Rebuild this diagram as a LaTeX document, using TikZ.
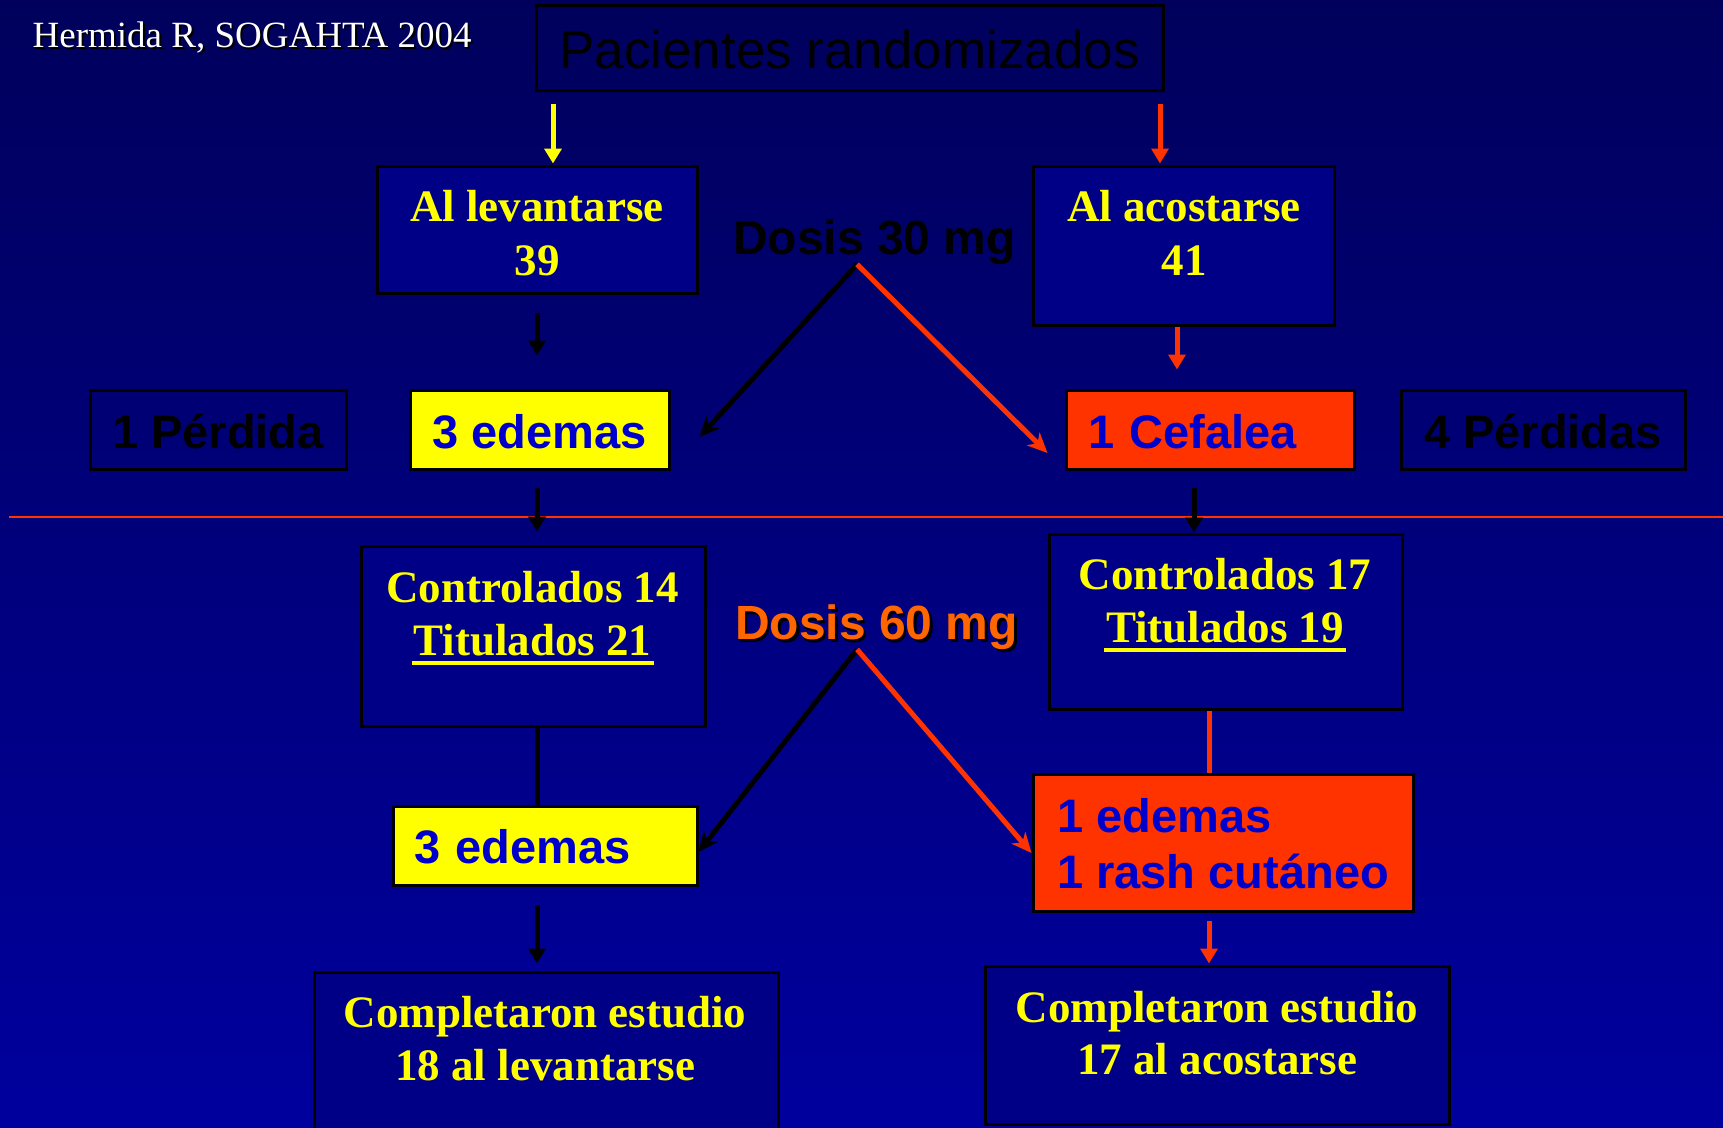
\documentclass[tikz,border=0pt]{standalone}
\usepackage{fontspec}
\setmainfont{Liberation Serif}
\setsansfont{Liberation Sans}
\usetikzlibrary{arrows.meta}

\definecolor{bgtop}{RGB}{0,0,92}
\definecolor{bgbot}{RGB}{0,0,158}
\definecolor{boxblue}{RGB}{0,0,134}
\definecolor{flagred}{RGB}{255,51,0}
\definecolor{markyellow}{RGB}{255,255,0}
\definecolor{inkblue}{RGB}{0,0,204}
\definecolor{doseorange}{RGB}{255,102,0}

\newcommand\serifbig{\fontsize{45}{54}\selectfont\bfseries}
\newcommand\sansbig{\fontsize{47}{56}\selectfont\sffamily\bfseries}
\newcommand\ulbar[1]{\setbox0\hbox{#1}\rlap{\hspace{-2pt}\rule[-10pt]{\dimexpr\wd0+4pt\relax}{4pt}}\box0}

\begin{document}
\begin{tikzpicture}[
  x=1pt,
  y=-1pt,
  frame/.style={draw=black, line width=3pt, inner sep=0pt},
  navybox/.style={frame, fill=boxblue},
  lossbox/.style={frame, font=\sansbig, text=black, text height=37pt, text depth=0pt},
  countline/.style={font=\serifbig, text=markyellow, inner sep=0pt, anchor=base},
  sideline/.style={font=\sansbig, text=inkblue, inner sep=0pt, anchor=base west},
  titletext/.style={font=\fontsize{37}{44}\selectfont, inner sep=0pt, anchor=base west},
  dosetext/.style={font=\fontsize{48}{58}\selectfont\sffamily\bfseries, inner sep=0pt, anchor=base west},
  vArrow/.style={line width=5pt, -{Triangle[length=15pt,width=17pt]}},
  dArrow/.style={line width=5pt, -{Stealth[length=20pt,width=18pt,inset=6pt]}},
  plainline/.style={line width=5pt}
]
  \useasboundingbox (0,0) rectangle (1723,1127);
  \shade[top color=bgtop, bottom color=bgbot] (0,0) rectangle (1723,1127);

  % title
  \node[titletext, text=black] (titleshadow) at (34.5,49) {Hermida R, SOGAHTA 2004};
  \node[titletext, text=white] (title) at (32.5,47.5) {Hermida R, SOGAHTA 2004};

  \node[frame, minimum width=627pt, minimum height=85pt, text height=41pt, text depth=0pt,
        font=\fontsize{53}{64}\selectfont\sffamily] (pac) at (849.5,47.5) {Pacientes randomizados};

  % first branch boxes
  \node[navybox, minimum width=320pt, minimum height=127pt] (lev) at (537,229.5) {};
  \node[navybox, minimum width=301pt, minimum height=159pt] (aco) at (1183.5,245.5) {};
  \node[countline] (levA) at (537,221) {Al levantarse};
  \node[countline] (levB) at (537,275) {39};
  \node[countline] (acoA) at (1184,221) {Al acostarse};
  \node[countline] (acoB) at (1184,275) {41};

  \node[dosetext, text=black] (dose30) at (733,254) {Dosis 30 mg};

  \node[lossbox, minimum width=256pt, minimum height=79pt] (loss1) at (218,429.5) {1 Pérdida};
  \node[lossbox, fill=markyellow, text=inkblue, minimum width=259pt, minimum height=79pt] (edema1) at (539.5,429.5) {3 edemas};
  \node[lossbox, fill=flagred, text=inkblue, align=left, inner xsep=22pt, text width=244pt,
        minimum height=79pt] (cefalea) at (1210,429.5) {1 Cefalea};
  \node[lossbox, minimum width=284pt, minimum height=79pt] (loss4) at (1543,429.5) {4 Pérdidas};

  % separator
  \coordinate (sepL) at (9,517);
  \coordinate (sepR) at (1723,517);
  \draw[flagred, line width=2pt] (sepL) -- (sepR);

  % second branch boxes
  \node[navybox, minimum width=344pt, minimum height=180pt] (ctrlL) at (533,636) {};
  \node[navybox, minimum width=353pt, minimum height=175pt] (ctrlR) at (1225.5,621.5) {};
  \node[countline] (ctrlLA) at (532.5,602) {Controlados 14};
  \node[countline] (ctrlLB) at (532.5,655) {\ulbar{Titulados 21}};
  \node[countline] (ctrlRA) at (1225,589) {Controlados 17};
  \node[countline] (ctrlRB) at (1225,642) {\ulbar{Titulados 19}};

  \node[dosetext, text=black] (dose60shadow) at (737.5,642) {Dosis 60 mg};
  \node[dosetext, text=doseorange] (dose60) at (735,639) {Dosis 60 mg};

  \node[lossbox, fill=markyellow, text=inkblue, align=left, inner xsep=21pt, text width=262pt,
        minimum height=79pt, text height=35pt] (edema2) at (545,845.5) {3 edemas};
  \node[frame, fill=flagred, minimum width=380pt, minimum height=137pt] (rash) at (1223,842.5) {};
  \node[sideline] (rashA) at (1057,832) {1 edemas};
  \node[sideline] (rashB) at (1057,888) {1 rash cutáneo};

  \node[navybox, minimum width=464pt, minimum height=163pt] (compL) at (546,1053.5) {};
  \node[navybox, minimum width=464pt, minimum height=158pt] (compR) at (1217,1045) {};
  \node[countline] (compLA) at (545,1027) {Completaron estudio};
  \node[countline] (compLB) at (545,1080) {18 al levantarse};
  \node[countline] (compRA) at (1217,1022) {Completaron estudio};
  \node[countline] (compRB) at (1217,1074) {17 al acostarse};

  % connector columns
  \coordinate (colY) at (553,0);
  \coordinate (colR) at (1160,0);
  \coordinate (colA) at (1177,0);
  \coordinate (colB) at (1194,0);
  \coordinate (colC) at (1209,0);

  \draw[vArrow, markyellow, shorten <=12pt, shorten >=1pt] (pac.south -| colY) -- (lev.north -| colY);
  \draw[vArrow, flagred, shorten <=12pt, shorten >=1pt] (pac.south -| colR) -- (aco.north -| colR);
  \draw[vArrow, shorten <=18pt, shorten >=33pt] (lev.south) -- (lev.south |- edema1.north);
  \draw[vArrow, flagred, shorten >=19pt] (aco.south -| colA) -- (cefalea.north -| colA);
  \draw[vArrow, shorten <=17pt, shorten >=13pt] (edema1.south -| lev.south) -- (ctrlL.north -| lev.south);
  \draw[vArrow, shorten <=17pt] (cefalea.south -| colB) -- (ctrlR.north -| colB);
  \draw[plainline] (ctrlL.south -| lev.south) -- (edema2.north -| lev.south);
  \draw[plainline, flagred] (ctrlR.south -| colC) -- (rash.north -| colC);
  \draw[vArrow, shorten <=18pt, shorten >=7pt] (edema2.south -| lev.south) -- (compL.north -| lev.south);
  \draw[vArrow, flagred, shorten <=8pt, shorten >=1pt] (rash.south -| colC) -- (compR.north -| colC);

  % dose arrows
  \draw[dArrow] ([xshift=-17.5pt]dose30.south) -- ([xshift=29pt,yshift=-7.5pt]edema1.east);
  \draw[dArrow, flagred] ([xshift=-17.5pt]dose30.south) -- ([xshift=-17pt,yshift=-23.5pt]cefalea.west);
  \draw[dArrow] ([xshift=-19.5pt]dose60.south) -- ([yshift=-6.5pt]edema2.east);
  \draw[dArrow, flagred] ([xshift=-19.5pt]dose60.south) -- ([yshift=-10.5pt]rash.west);
\end{tikzpicture}
\end{document}
